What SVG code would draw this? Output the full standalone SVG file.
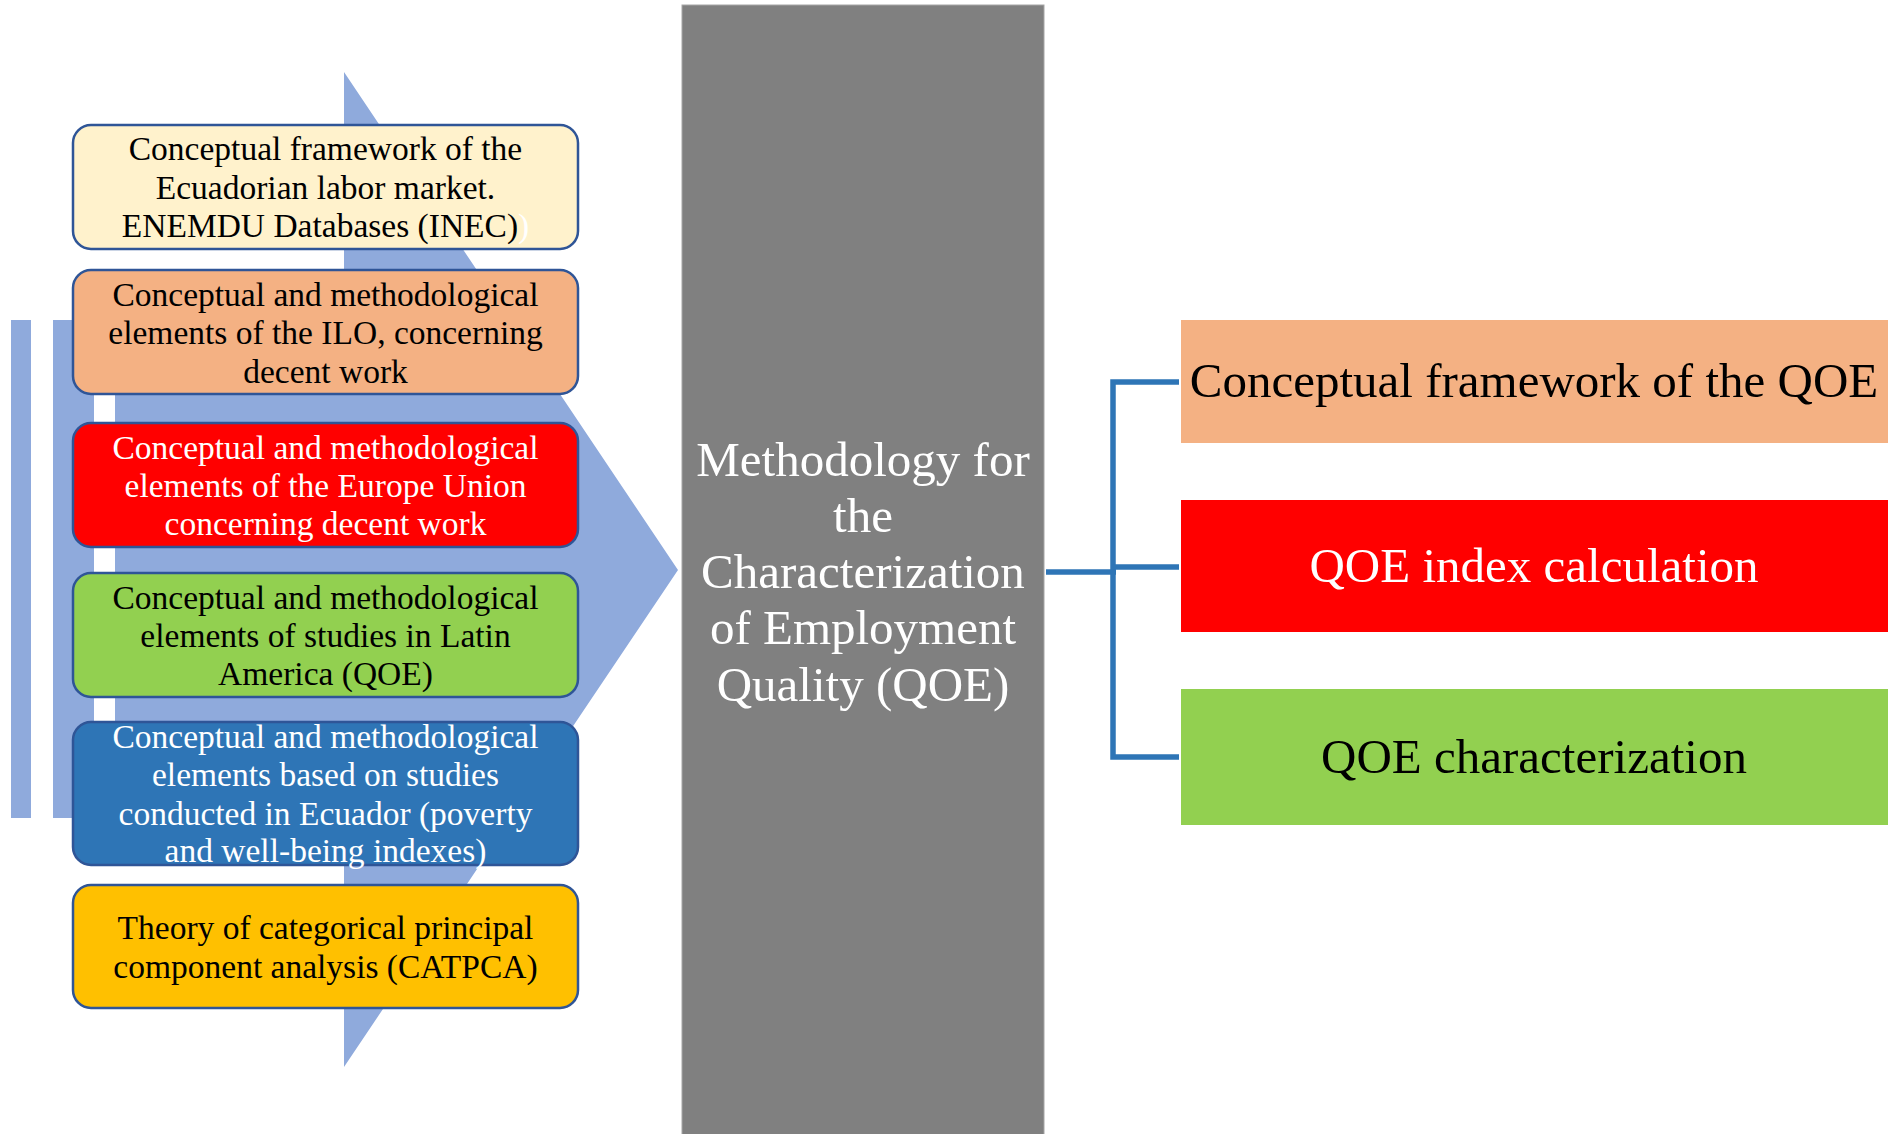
<svg xmlns="http://www.w3.org/2000/svg" width="1888" height="1134" viewBox="0 0 1888 1134">
<style>
  .box { stroke: #2F5597; stroke-width: 2.5; }
  .t { font-family: "Liberation Serif", "Times New Roman", serif; text-anchor: middle; }
  .s { font-size: 33.5px; }
  .b { font-size: 49px; }
  .k { fill: #000000; }
  .w { fill: #FFFFFF; }
  .conn { fill: none; stroke: #2E75B6; stroke-width: 5.5; }
</style>
<rect x="0" y="0" width="1888" height="1134" fill="#FFFFFF"/>

<g id="arrow">
  <rect x="11" y="320" width="20" height="498" fill="#8FAADC"/>
  <rect x="53" y="320" width="41" height="498" fill="#8FAADC"/>
  <polygon points="115,320 344,320 344,72 678,570 344,1067 344,818 115,818" fill="#8FAADC"/>
</g>

<g id="node-ecuador-labor">
  <rect class="box" x="73" y="125" width="505" height="124" rx="18" fill="#FFF2CC"/>
  <text class="t s k" x="325.5" y="160">Conceptual framework of the</text>
  <text class="t s k" x="325.5" y="199">Ecuadorian labor market.</text>
  <text class="t s k" x="325.5" y="237">ENEMDU Databases (INEC)<tspan fill="#FFFFFF">)</tspan></text>
</g>

<g id="node-ilo">
  <rect class="box" x="73" y="270" width="505" height="124" rx="18" fill="#F4B183"/>
  <text class="t s k" x="325.5" y="306">Conceptual and methodological</text>
  <text class="t s k" x="325.5" y="344">elements of the ILO, concerning</text>
  <text class="t s k" x="325.5" y="383">decent work</text>
</g>

<g id="node-eu">
  <rect class="box" x="73" y="423" width="505" height="124" rx="18" fill="#FF0000"/>
  <text class="t s w" x="325.5" y="459">Conceptual and methodological</text>
  <text class="t s w" x="325.5" y="497">elements of the Europe Union</text>
  <text class="t s w" x="325.5" y="535">concerning decent work</text>
</g>

<g id="node-latam">
  <rect class="box" x="73" y="573" width="505" height="124" rx="18" fill="#92D050"/>
  <text class="t s k" x="325.5" y="609">Conceptual and methodological</text>
  <text class="t s k" x="325.5" y="647">elements of studies in Latin</text>
  <text class="t s k" x="325.5" y="685">America (QOE)</text>
</g>

<g id="node-ecuador-studies">
  <rect class="box" x="73" y="722" width="505" height="143" rx="18" fill="#2E75B6"/>
  <text class="t s w" x="325.5" y="748">Conceptual and methodological</text>
  <text class="t s w" x="325.5" y="786">elements based on studies</text>
  <text class="t s w" x="325.5" y="825">conducted in Ecuador (poverty</text>
  <text class="t s w" x="325.5" y="862">and well-being indexes)</text>
</g>

<g id="node-catpca">
  <rect class="box" x="73" y="885" width="505" height="123" rx="18" fill="#FFC000"/>
  <text class="t s k" x="325.5" y="939">Theory of categorical principal</text>
  <text class="t s k" x="325.5" y="978">component analysis (CATPCA)</text>
</g>

<g id="node-methodology">
  <rect x="682" y="5" width="362" height="1140" fill="#808080" stroke="#A6A6A6" stroke-width="1"/>
  <text class="t b w" x="863" y="476">Methodology for</text>
  <text class="t b w" x="863" y="532">the</text>
  <text class="t b w" x="863" y="588">Characterization</text>
  <text class="t b w" x="863" y="644">of Employment</text>
  <text class="t b w" x="863" y="701">Quality (QOE)</text>
</g>

<g id="connectors">
  <path class="conn" d="M1046,572 H1116"/>
  <path class="conn" d="M1179,382 H1113 V757 H1179"/>
  <path class="conn" d="M1113,567 H1179"/>
</g>

<g id="node-framework">
  <rect x="1181" y="320" width="707" height="123" fill="#F4B183"/>
  <text class="t b k" x="1534" y="397">Conceptual framework of the QOE</text>
</g>

<g id="node-index">
  <rect x="1181" y="500" width="707" height="132" fill="#FF0000"/>
  <text class="t b w" x="1534" y="582">QOE index calculation</text>
</g>

<g id="node-characterization">
  <rect x="1181" y="689" width="707" height="136" fill="#92D050"/>
  <text class="t b k" x="1534" y="773">QOE characterization</text>
</g>
</svg>
